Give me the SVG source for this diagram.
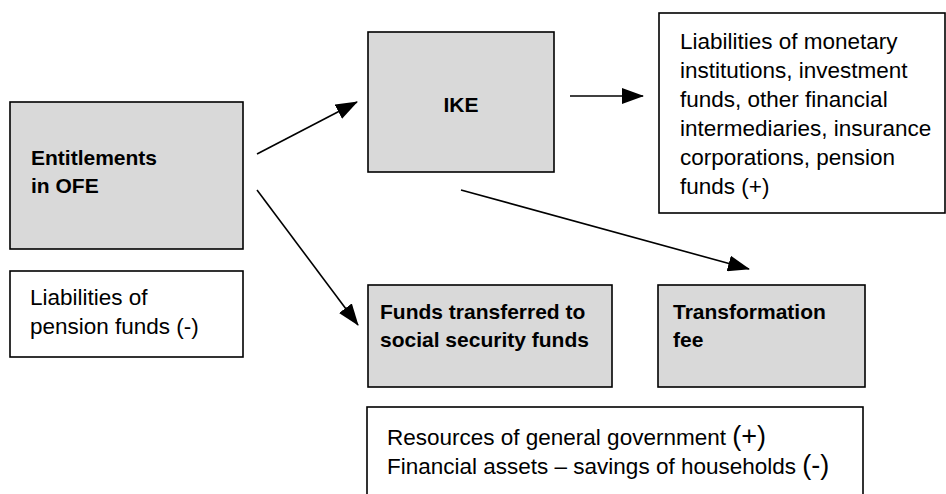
<svg xmlns="http://www.w3.org/2000/svg" width="946" height="494" viewBox="0 0 946 494">
<defs>
<marker id="ah" viewBox="0 0 22 16" refX="21" refY="8" markerWidth="22" markerHeight="16" orient="auto" markerUnits="userSpaceOnUse">
<path d="M0,0 L22,8 L0,16 Z" fill="#000"/>
</marker>
<style>
.g{fill:#d9d9d9;stroke:#000;stroke-width:1.6}
.w{fill:#fff;stroke:#000;stroke-width:1.6}
.b{font-family:"Liberation Sans",Arial,sans-serif;font-weight:bold;font-size:21px;fill:#000}
.r{font-family:"Liberation Sans",Arial,sans-serif;font-size:22.5px;fill:#000}
.c{stroke:#000;stroke-width:1.6;fill:none;marker-end:url(#ah)}
.big{font-size:27px}
</style>
</defs>
<g id="entitlements">
<rect class="g" x="10" y="102" width="233" height="147"/>
<text class="b" x="31" y="165">Entitlements</text>
<text class="b" x="31" y="193">in OFE</text>
</g>
<g id="pension-liab">
<rect class="w" x="10" y="271" width="233" height="86"/>
<text class="r" x="30" y="305">Liabilities of</text>
<text class="r" x="30" y="334">pension funds (-)</text>
</g>
<g id="ike">
<rect class="g" x="368" y="32" width="186" height="140"/>
<text class="b" x="461" y="112" text-anchor="middle">IKE</text>
</g>
<g id="liab-monetary">
<rect class="w" x="659" y="13" width="286" height="200"/>
<text class="r" x="680" y="49">Liabilities of monetary</text>
<text class="r" x="680" y="78">institutions, investment</text>
<text class="r" x="680" y="107">funds, other financial</text>
<text class="r" x="680" y="136">intermediaries, insurance</text>
<text class="r" x="680" y="165">corporations, pension</text>
<text class="r" x="680" y="194">funds (+)</text>
</g>
<g id="funds-transferred">
<rect class="g" x="368" y="285" width="244" height="102"/>
<text class="b" x="380" y="319">Funds transferred to</text>
<text class="b" x="380" y="347">social security funds</text>
</g>
<g id="transformation-fee">
<rect class="g" x="658" y="285" width="207" height="102"/>
<text class="b" x="673" y="319">Transformation</text>
<text class="b" x="673" y="347">fee</text>
</g>
<g id="resources">
<rect class="w" x="367" y="407" width="496" height="100"/>
<text class="r" x="387" y="445">Resources of general government <tspan class="big">(+)</tspan></text>
<text class="r" x="387" y="474">Financial assets – savings of households <tspan class="big">(-)</tspan></text>
</g>
<g id="connectors">
<path class="c" d="M257,154 L357,102"/>
<path class="c" d="M570,96 L643,96"/>
<path class="c" d="M257,190 L358,325"/>
<path class="c" d="M461,190 L749,269"/>
</g>
</svg>
